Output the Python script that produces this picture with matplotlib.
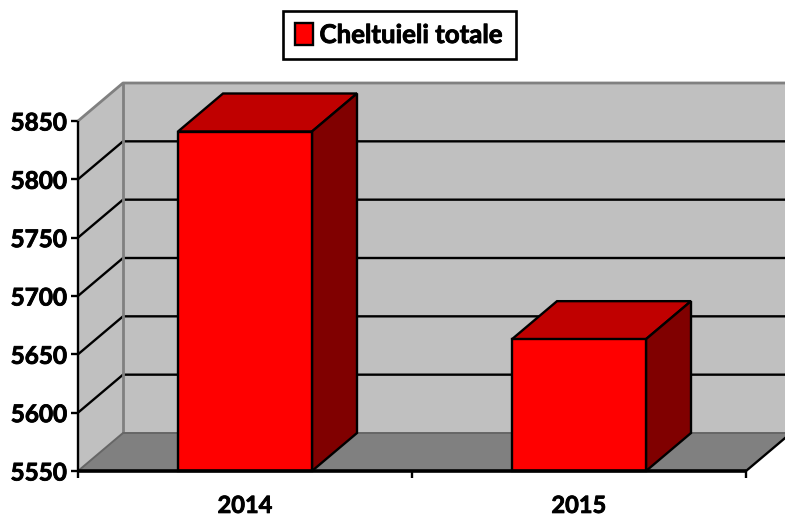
import matplotlib
matplotlib.use("Agg")
import matplotlib.pyplot as plt
import matplotlib.patheffects as pe
from matplotlib.patches import Polygon, Patch

plt.rcParams['font.family'] = ['Lato', 'DejaVu Sans']

years = ['2014', '2015']
expenses = [5841, 5663]
y_ticks = [5550, 5600, 5650, 5700, 5750, 5800, 5850]
series_name = 'Cheltuieli totale'

W, H = 785, 517
fig = plt.figure(figsize=(W / 100, H / 100), dpi=100, facecolor='white')
L, R, T, B = 78, 746, 121, 471
ax = fig.add_axes([L / W, 1 - B / H, (R - L) / W, (B - T) / H])
ax.set_xlim(0, len(years))
ax.set_ylim(y_ticks[0], y_ticks[-1])
ax.patch.set_visible(False)
for s in ax.spines.values():
    s.set_visible(False)

DX = 45 / ((R - L) / len(years))
DY = 38 / ((B - T) / (y_ticks[-1] - y_ticks[0]))
y0, y1 = y_ticks[0], y_ticks[-1]
xmax = len(years)
over = 0.5  # walls continue past the page edge
heavy = [pe.withStroke(linewidth=0.6, foreground='black')]


def poly(pts, fc, z, ec='none', lw=0):
    ax.add_patch(Polygon(pts, closed=True, facecolor=fc, edgecolor=ec, linewidth=lw,
                         zorder=z, clip_on=False, joinstyle='miter'))


def line(xs, ys, c, lw, z):
    ax.plot(xs, ys, color=c, lw=lw, zorder=z, clip_on=False, solid_capstyle='butt')


# Walls and floor
poly([(0, y0), (DX, y0 + DY), (DX, y1 + DY), (0, y1)], '#C0C0C0', 1)
poly([(DX, y0 + DY), (xmax + over, y0 + DY), (xmax + over, y1 + DY), (DX, y1 + DY)], '#C0C0C0', 1)
poly([(0, y0), (xmax, y0), (xmax + DX, y0 + DY), (DX, y0 + DY)], '#808080', 2)

# Gridlines
for v in y_ticks[1:-1]:
    line([0, DX, xmax + over], [v, v + DY, v + DY], 'black', 1.7, 3)

# Wall outlines
GREY = '#808080'
line([0, DX, xmax + over], [y1, y1 + DY, y1 + DY], GREY, 2.0, 3)
line([DX, DX], [y0 + DY, y1 + DY], GREY, 2.0, 3)
line([0, DX, xmax + over], [y0, y0 + DY, y0 + DY], '#666666', 1.4, 3)
line([xmax, xmax + DX], [y0, y0 + DY], 'black', 1.7, 3)

# Bars
bw = 134 / ((R - L) / len(years))
for i, v in enumerate(expenses):
    xa, xb = i + 0.5 - bw / 2, i + 0.5 + bw / 2
    poly([(xa, v), (xb, v), (xb + DX, v + DY), (xa + DX, v + DY)], '#C00000', 5, 'black', 1.7)
    poly([(xb, y0), (xb + DX, y0 + DY), (xb + DX, v + DY), (xb, v)], '#800000', 5, 'black', 1.7)
    poly([(xa, y0), (xb, y0), (xb, v), (xa, v)], '#FF0000', 6, 'black', 1.7)

# Axes lines
line([0, 0], [y0, y1], 'black', 1.7, 7)
line([0, xmax], [y0, y0], 'black', 2.6, 7)

# Ticks
ax.set_yticks(y_ticks)
ax.set_xticks(range(len(years) + 1))
ax.set_xticklabels([])
ax.set_xticks([i + 0.5 for i in range(len(years))], minor=True)
ax.set_xticklabels(years, minor=True, fontsize=17, fontweight='bold')
ax.tick_params(axis='x', which='major', length=5, width=1.7, color='black')
ax.tick_params(axis='x', which='minor', length=0, pad=16.5)
ax.tick_params(axis='y', length=5, width=1.7, color='black', pad=3, labelsize=17.5)
for t in ax.get_yticklabels():
    t.set_fontweight('bold')
    t.set_path_effects(heavy)
for t in ax.get_xticklabels(minor=True):
    t.set_path_effects(heavy)

# Legend
leg = fig.legend(handles=[Patch(facecolor='#FF0000', edgecolor='black', linewidth=1.7, label=series_name)],
                 loc='center', bbox_to_anchor=(399.5 / W, 1 - 35 / H), frameon=True, fancybox=False,
                 edgecolor='black', framealpha=1,
                 prop={'weight': 'bold', 'size': 18.6}, handlelength=0.7, handleheight=0.9,
                 handletextpad=0.25, borderpad=0.45, borderaxespad=0)
leg.get_frame().set_linewidth(1.9)
for t in leg.get_texts():
    t.set_path_effects(heavy)

fig.savefig('out.png', dpi=100)
